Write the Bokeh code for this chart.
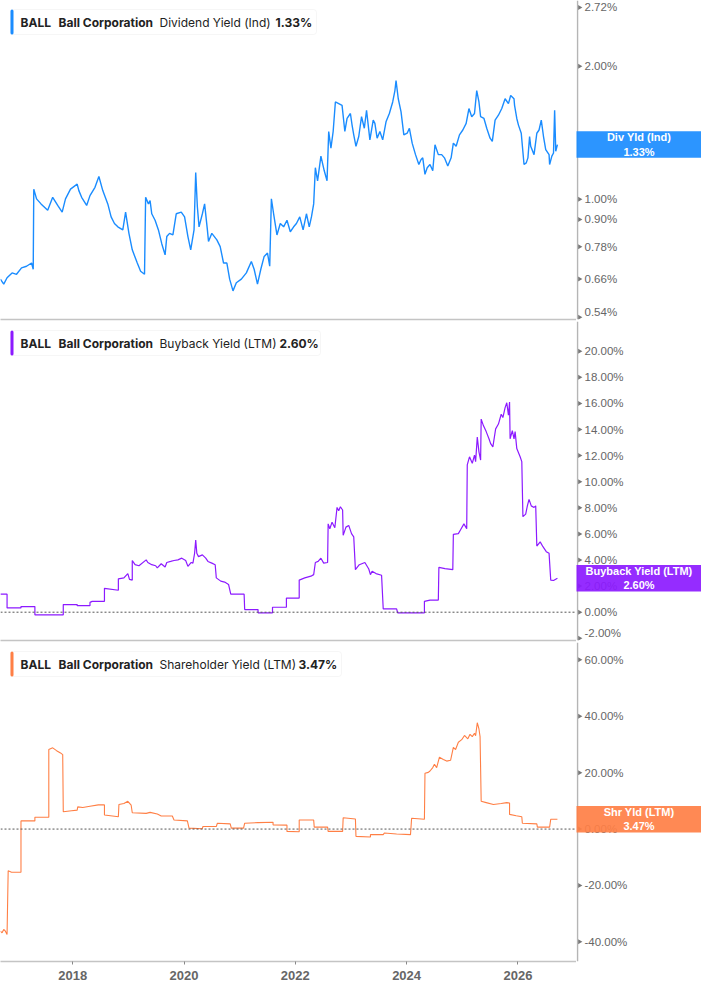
import math
from bokeh.plotting import figure
from bokeh.models import Range1d, FixedTicker, PrintfTickFormatter, Span, Label, BoxAnnotation, ColumnDataSource
from bokeh.core.properties import value
from bokeh.layouts import column, row
from bokeh.embed import file_html
from bokeh.resources import INLINE

# ---------------- data ----------------
ticker = "BALL"
company = "Ball Corporation"
year_ticks = [2018, 2020, 2022, 2024, 2026]

div_name = "Dividend Yield (Ind)"
div_short = "Div Yld (Ind)"
div_ticks = [0.54, 0.66, 0.78, 0.90, 1.00, 2.00, 2.72]
div_dates = [
    2016.70, 2016.76, 2016.82, 2016.91, 2016.99, 2017.08, 2017.17, 2017.26, 2017.29, 2017.30,
    2017.35, 2017.43, 2017.55, 2017.64, 2017.73, 2017.81, 2017.87, 2017.96, 2018.08, 2018.11,
    2018.16, 2018.25, 2018.31, 2018.40, 2018.47, 2018.54, 2018.63, 2018.69, 2018.75, 2018.81,
    2018.90, 2018.95, 2019.01, 2019.07, 2019.16, 2019.22, 2019.29, 2019.31, 2019.36, 2019.39,
    2019.42, 2019.48, 2019.54, 2019.60, 2019.66, 2019.69, 2019.74, 2019.80, 2019.86, 2019.95,
    2020.01, 2020.07, 2020.12, 2020.18, 2020.21, 2020.24, 2020.27, 2020.33, 2020.37, 2020.42,
    2020.44, 2020.50, 2020.59, 2020.65, 2020.71, 2020.77, 2020.82, 2020.88, 2020.94, 2021.03,
    2021.12, 2021.21, 2021.26, 2021.32, 2021.38, 2021.44, 2021.50, 2021.54, 2021.57, 2021.61,
    2021.67, 2021.73, 2021.79, 2021.85, 2021.91, 2021.97, 2022.02, 2022.08, 2022.14, 2022.20,
    2022.25, 2022.29, 2022.33, 2022.36, 2022.40, 2022.46, 2022.52, 2022.57, 2022.60, 2022.64,
    2022.68, 2022.72, 2022.78, 2022.84, 2022.89, 2022.93, 2022.99, 2023.02, 2023.05, 2023.09,
    2023.14, 2023.19, 2023.24, 2023.28, 2023.34, 2023.40, 2023.43, 2023.47, 2023.52, 2023.57,
    2023.63, 2023.69, 2023.75, 2023.79, 2023.81, 2023.85, 2023.90, 2023.95, 2024.01, 2024.05,
    2024.10, 2024.16, 2024.22, 2024.26, 2024.29, 2024.33, 2024.37, 2024.42, 2024.47, 2024.51,
    2024.57, 2024.63, 2024.68, 2024.74, 2024.80, 2024.84, 2024.89, 2024.95, 2025.01, 2025.07,
    2025.12, 2025.17, 2025.22, 2025.26, 2025.30, 2025.33, 2025.39, 2025.44, 2025.50, 2025.54,
    2025.59, 2025.65, 2025.71, 2025.77, 2025.83, 2025.87, 2025.93, 2025.94, 2025.98, 2026.01,
    2026.06, 2026.11, 2026.15, 2026.18, 2026.21, 2026.23, 2026.29, 2026.34, 2026.38, 2026.42,
    2026.46, 2026.50, 2026.56, 2026.57, 2026.61, 2026.64, 2026.66, 2026.68, 2026.71,
]
div_values = [
    0.659, 0.642, 0.664, 0.681, 0.676, 0.699, 0.705, 0.717, 0.694, 1.054,
    1.002, 0.976, 0.944, 1.010, 0.968, 0.935, 1.002, 1.054, 1.082, 1.046,
    1.010, 0.968, 1.019, 1.064, 1.126, 1.046, 0.976, 0.912, 0.881, 0.866,
    0.852, 0.935, 0.837, 0.768, 0.717, 0.687, 0.676, 1.010, 0.976, 0.993,
    0.927, 0.896, 0.852, 0.793, 0.748, 0.823, 0.837, 0.830, 0.927, 0.935,
    0.912, 0.823, 0.768, 0.852, 1.149, 0.960, 0.866, 0.927, 0.976, 0.852,
    0.802, 0.837, 0.809, 0.781, 0.717, 0.717, 0.659, 0.620, 0.647, 0.659,
    0.681, 0.723, 0.694, 0.642, 0.694, 0.742, 0.755, 0.705, 1.002, 0.927,
    0.830, 0.881, 0.866, 0.896, 0.844, 0.866, 0.881, 0.912, 0.852, 0.927,
    0.866, 0.912, 0.976, 1.179, 1.101, 1.252, 1.160, 1.101, 1.424, 1.306,
    1.424, 1.661, 1.647, 1.632, 1.424, 1.524, 1.564, 1.472, 1.399, 1.318,
    1.387, 1.538, 1.448, 1.591, 1.363, 1.511, 1.485, 1.375, 1.424, 1.363,
    1.498, 1.564, 1.661, 1.763, 1.856, 1.689, 1.578, 1.399, 1.411, 1.448,
    1.340, 1.262, 1.199, 1.230, 1.241, 1.139, 1.179, 1.199, 1.160, 1.329,
    1.262, 1.262, 1.241, 1.189, 1.241, 1.340, 1.318, 1.399, 1.435, 1.485,
    1.605, 1.538, 1.564, 1.763, 1.661, 1.538, 1.524, 1.448, 1.375, 1.352,
    1.511, 1.550, 1.605, 1.689, 1.647, 1.718, 1.689, 1.632, 1.524, 1.472,
    1.411, 1.199, 1.209, 1.241, 1.387, 1.318, 1.262, 1.411, 1.435, 1.511,
    1.387, 1.295, 1.262, 1.199, 1.252, 1.273, 1.591, 1.284, 1.330,
]

buy_name = "Buyback Yield (LTM)"
buy_short = "Buyback Yield (LTM)"
buy_ticks = [-2, 0, 2, 4, 6, 8, 10, 12, 14, 16, 18, 20]
buy_dates = [
    2016.70, 2016.82, 2016.82, 2017.07, 2017.07, 2017.32, 2017.32, 2017.83, 2017.83, 2018.08,
    2018.08, 2018.31, 2018.31, 2018.35, 2018.57, 2018.57, 2018.82, 2018.82, 2018.92, 2018.99,
    2019.02, 2019.07, 2019.07, 2019.12, 2019.19, 2019.32, 2019.35, 2019.42, 2019.49, 2019.52,
    2019.59, 2019.66, 2019.69, 2019.76, 2019.82, 2019.89, 2019.96, 2020.03, 2020.07, 2020.13,
    2020.16, 2020.19, 2020.21, 2020.23, 2020.26, 2020.33, 2020.39, 2020.43, 2020.50, 2020.56,
    2020.58, 2020.66, 2020.73, 2020.80, 2020.84, 2021.08, 2021.09, 2021.33, 2021.33, 2021.59,
    2021.59, 2021.84, 2021.84, 2022.07, 2022.07, 2022.17, 2022.28, 2022.33, 2022.36, 2022.41,
    2022.46, 2022.51, 2022.58, 2022.59, 2022.62, 2022.66, 2022.71, 2022.75, 2022.78, 2022.81,
    2022.85, 2022.86, 2022.91, 2022.96, 2023.01, 2023.05, 2023.08, 2023.15, 2023.25, 2023.32,
    2023.35, 2023.38, 2023.45, 2023.55, 2023.58, 2023.82, 2023.84, 2024.32, 2024.32, 2024.42,
    2024.57, 2024.58, 2024.69, 2024.83, 2024.84, 2024.93, 2024.97, 2025.03, 2025.08, 2025.09,
    2025.13, 2025.18, 2025.22, 2025.24, 2025.27, 2025.30, 2025.33, 2025.34, 2025.38, 2025.43,
    2025.48, 2025.51, 2025.55, 2025.60, 2025.65, 2025.70, 2025.73, 2025.77, 2025.80, 2025.83,
    2025.85, 2025.86, 2025.90, 2025.93, 2025.95, 2025.98, 2026.04, 2026.07, 2026.09, 2026.14,
    2026.17, 2026.20, 2026.24, 2026.29, 2026.32, 2026.34, 2026.40, 2026.45, 2026.51, 2026.56,
    2026.59, 2026.64, 2026.71,
]
buy_values = [
    1.38, 1.38, 0.33, 0.33, 0.43, 0.43, -0.20, -0.20, 0.58, 0.58,
    0.50, 0.50, 0.75, 0.83, 0.83, 1.83, 1.68, 2.56, 2.63, 2.96,
    2.51, 2.46, 3.96, 3.64, 3.56, 4.01, 3.81, 3.64, 3.56, 3.39,
    3.71, 3.46, 3.81, 3.89, 3.96, 4.01, 4.14, 3.96, 3.51, 3.81,
    3.76, 4.51, 5.52, 4.51, 4.26, 4.39, 4.14, 3.89, 3.76, 3.64,
    2.63, 2.38, 2.31, 2.13, 1.38, 1.38, 0.20, 0.20, -0.05, -0.05,
    0.38, 0.38, 1.08, 1.08, 2.46, 2.63, 2.76, 2.88, 3.81, 3.89,
    4.14, 3.76, 3.81, 6.77, 6.40, 6.90, 6.47, 8.03, 7.78, 8.08,
    7.83, 5.89, 6.52, 6.65, 6.02, 5.77, 3.26, 3.64, 3.81, 3.31,
    2.88, 3.14, 2.96, 2.83, 0.25, 0.25, -0.05, -0.05, 0.83, 0.93,
    0.93, 3.44, 3.34, 3.26, 5.97, 6.02, 6.32, 6.77, 6.40, 11.29,
    11.91, 11.41, 12.04, 11.54, 13.42, 12.29, 11.66, 14.80, 14.30, 13.84,
    13.29, 12.92, 12.67, 14.05, 14.42, 15.17, 14.92, 15.68, 16.05, 15.10,
    16.10, 13.29, 13.92, 13.29, 13.84, 12.54, 11.91, 11.54, 7.32, 7.52,
    8.15, 8.65, 8.15, 8.03, 8.15, 5.07, 5.39, 5.02, 4.64, 4.51,
    2.46, 2.43, 2.60,
]

shr_name = "Shareholder Yield (LTM)"
shr_short = "Shr Yld (LTM)"
shr_ticks = [-40, -20, 0, 20, 40, 60]
shr_dates = [
    2016.70, 2016.73, 2016.76, 2016.79, 2016.82, 2016.84, 2016.90, 2017.07, 2017.07, 2017.32,
    2017.32, 2017.57, 2017.57, 2017.64, 2017.71, 2017.78, 2017.82, 2017.83, 2017.98, 2018.08,
    2018.09, 2018.18, 2018.31, 2018.46, 2018.57, 2018.57, 2018.82, 2018.83, 2018.92, 2018.99,
    2019.05, 2019.07, 2019.32, 2019.39, 2019.52, 2019.59, 2019.79, 2019.82, 2020.06, 2020.09,
    2020.33, 2020.34, 2020.58, 2020.60, 2020.83, 2020.85, 2021.07, 2021.09, 2021.33, 2021.60,
    2021.60, 2021.85, 2021.85, 2022.07, 2022.07, 2022.33, 2022.34, 2022.58, 2022.59, 2022.85,
    2022.86, 2023.08, 2023.09, 2023.35, 2023.35, 2023.58, 2023.60, 2023.82, 2024.07, 2024.09,
    2024.32, 2024.33, 2024.39, 2024.42, 2024.47, 2024.50, 2024.54, 2024.59, 2024.66, 2024.72,
    2024.79, 2024.84, 2024.88, 2024.93, 2024.99, 2025.04, 2025.10, 2025.14, 2025.18, 2025.22,
    2025.24, 2025.27, 2025.30, 2025.32, 2025.34, 2025.43, 2025.56, 2025.70, 2025.80, 2025.85,
    2025.85, 2025.97, 2026.07, 2026.08, 2026.34, 2026.35, 2026.57, 2026.59, 2026.71,
]
shr_values = [
    -36.2, -36.8, -35.6, -36.2, -37.4, -14.8, -15.3, -15.3, 2.89, 2.89,
    4.17, 4.17, 28.2, 28.8, 27.8, 27.0, 26.4, 6.13, 6.48, 6.71,
    7.87, 7.64, 8.10, 8.57, 8.57, 4.98, 4.39, 8.69, 9.05, 9.85,
    8.46, 5.78, 5.57, 5.92, 5.33, 4.63, 4.63, 3.24, 2.89, 0.35,
    0.12, 0.91, 0.91, 2.09, 1.86, 0.35, 0.35, 2.09, 2.30, 2.44,
    1.50, 1.39, -0.83, -0.95, 3.24, 3.24, 0.70, 0.70, -0.83, -0.83,
    4.04, 3.59, -2.58, -2.80, -1.98, -1.98, -1.39, -1.74, -1.98, 3.83,
    3.48, 19.8, 20.1, 20.6, 21.8, 23.0, 21.8, 25.5, 24.7, 24.1,
    24.4, 29.0, 28.2, 30.8, 31.7, 33.2, 32.0, 33.6, 32.8, 34.0,
    33.1, 37.7, 35.5, 32.8, 9.85, 9.38, 8.69, 9.05, 9.38, 9.27,
    5.21, 4.75, 4.39, 2.09, 1.86, 0.70, 0.70, 3.47, 3.47,
]

# ---------------- layout / style ----------------
FW, FH = 576, 319     # plot frame
AW = 125              # right-hand axis column
x_start, x_end = 2016.702, 2027.053
xr = Range1d(x_start, x_end)

BLUE = "#1a8cff"
PURPLE = "#8c1aff"
ORANGE = "#ff7f45"
AXIS_GREY = "#b5b5b5"


def base_fig(fw, y_range, ytype, bottom):
    p = figure(frame_width=fw, frame_height=FH, y_range=y_range, y_axis_type=ytype,
               y_axis_location=None, output_backend="svg", toolbar_location=None,
               min_border_left=0, min_border_right=0, min_border_top=0,
               min_border_bottom=bottom, background_fill_color="white",
               border_fill_color="white")
    p.outline_line_color = None
    p.grid.visible = False
    return p


def plot_panel(y_range, ytype, show_x):
    p = base_fig(FW, y_range, ytype, 28 if show_x else 2)
    p.x_range = xr
    xa = p.xaxis[0]
    xa.ticker = FixedTicker(ticks=year_ticks if show_x else [])
    xa.formatter = PrintfTickFormatter(format="%d")
    xa.axis_line_color = "#c4c4c4"
    xa.axis_line_width = 1.5
    xa.minor_tick_in = 0
    xa.minor_tick_out = 0
    xa.major_tick_in = 0
    xa.major_tick_out = 3 if show_x else 0
    xa.major_tick_line_color = "#888888"
    xa.major_label_text_font = "Liberation Sans"
    xa.major_label_text_font_style = "bold"
    xa.major_label_text_font_size = "13px"
    xa.major_label_text_color = "#666666"
    xa.major_label_standoff = 6
    return p


def axis_panel(y_range, ytype, ticks, bottom, short, last, color, pad, lift_lowest):
    a = base_fig(AW, y_range, ytype, bottom)
    a.x_range = Range1d(0, AW)
    a.xaxis.visible = False
    n = len(ticks)
    # the lowest label sits on the panel edge: lift it a little so it is not cut
    dy = [(-5 if (lift_lowest and t == min(ticks)) else 0) for t in ticks]
    src = ColumnDataSource(dict(x_mark=[3] * n, x_text=[8] * n, y=ticks,
                                label=[f"{t:.2f}%" for t in ticks], dy=dy))
    a.add_layout(Span(location=1, dimension="height", line_color=AXIS_GREY, line_width=1.5))
    a.scatter(x="x_mark", y="y", source=src, marker="triangle", angle=-math.pi / 2,
              size=5, fill_color="#777777", line_color=None)
    a.text(x="x_text", y="y", text="label", y_offset="dy", source=src,
           text_font=value("Liberation Sans"), text_font_size=value("11.5px"),
           text_color="#666666", text_baseline="middle", text_align="left")
    a.add_layout(Label(x=AW / 2, y=last, text=f"{short}\n{last:.2f}%",
                       text_align="center", text_baseline="middle",
                       text_color="white", text_font="Liberation Sans",
                       text_font_style="bold", text_font_size="11px",
                       background_fill_color=color, background_fill_alpha=0.92,
                       padding=(pad, 0), level="overlay"))
    return a


def add_legend(p, box_w, name, val, color, name_w):
    top = FH - 9
    p.add_layout(BoxAnnotation(left=10, right=10 + box_w, top=top, bottom=top - 25,
                               left_units="screen", right_units="screen",
                               top_units="screen", bottom_units="screen",
                               fill_color="white", fill_alpha=1.0,
                               line_color="#e2e2e2", line_width=1,
                               border_radius=3, level="overlay"))
    p.add_layout(BoxAnnotation(left=10, right=13, top=top, bottom=top - 25,
                               left_units="screen", right_units="screen",
                               top_units="screen", bottom_units="screen",
                               fill_color=color, fill_alpha=1.0, line_color=None,
                               border_radius=2, level="overlay"))
    cy = top - 12.5
    parts = [(20, ticker, "bold"), (58, company, "bold"),
             (159, name, "normal"), (159 + name_w, val, "bold")]
    for x, t, st in parts:
        p.add_layout(Label(x=x, y=cy, x_units="screen", y_units="screen", text=t,
                           text_font="Inter", text_font_style=st,
                           text_font_size="12px", text_color="#222222",
                           text_baseline="middle", text_align="left",
                           level="overlay"))


def zero_line(p):
    p.add_layout(Span(location=0, dimension="width", line_color="#555555",
                      line_dash="2 2", line_width=1))


# Dividend yield (log scale)
yr1 = Range1d(0.534, 2.82)
p1 = plot_panel(yr1, "log", False)
p1.line(div_dates, div_values, line_color=BLUE, line_width=1.4)
add_legend(p1, 306, div_name, f"{div_values[-1]:.2f}%", BLUE, 116)
a1 = axis_panel(yr1, "log", div_ticks, 2, div_short, div_values[-1], BLUE, 36, True)

# Buyback yield
yr2 = Range1d(-2.17, 22.28)
p2 = plot_panel(yr2, "linear", False)
zero_line(p2)
p2.line(buy_dates, buy_values, line_color=PURPLE, line_width=1.2)
add_legend(p2, 310, buy_name, f"{buy_values[-1]:.2f}%", PURPLE, 120)
a2 = axis_panel(yr2, "linear", buy_ticks, 2, buy_short, buy_values[-1], PURPLE, 14, True)

# Shareholder yield
yr3 = Range1d(-46.96, 66.16)
p3 = plot_panel(yr3, "linear", True)
zero_line(p3)
p3.line(shr_dates, shr_values, line_color=ORANGE, line_width=1.1)
add_legend(p3, 331, shr_name, f"{shr_values[-1]:.2f}%", ORANGE, 139)
a3 = axis_panel(yr3, "linear", shr_ticks, 28, shr_short, shr_values[-1], ORANGE, 33, False)

layout = column(row(p1, a1, spacing=0), row(p2, a2, spacing=0),
                row(p3, a3, spacing=0), spacing=0)
open("out.html", "w").write(file_html(layout, INLINE))
